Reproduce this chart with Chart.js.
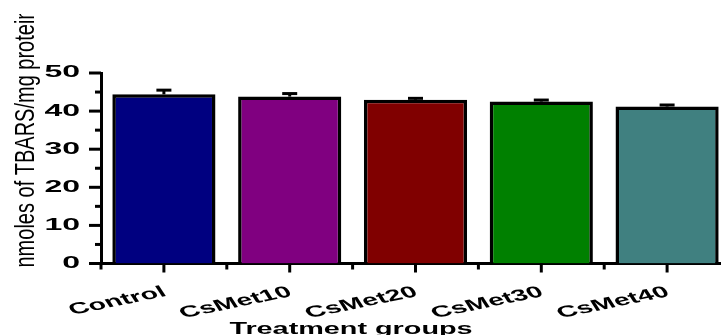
<!DOCTYPE html>
<html>
<head>
<meta charset="utf-8">
<script src="https://cdn.jsdelivr.net/npm/chart.js@4/dist/chart.umd.min.js"></script>
<style>
  html, body { margin: 0; padding: 0; background: #fff; overflow: hidden; }
  #wrap { width: 721px; height: 335px; overflow: hidden; position: relative; }
  canvas { display: block; }
</style>
</head>
<body>
<div id="wrap"><canvas id="c" width="730" height="335"></canvas></div>
<script>
// TBARS levels per treatment group (mean and SEM)
const groups = ['Control', 'CsMet10', 'CsMet20', 'CsMet30', 'CsMet40'];
const tbarsMean = [44.4, 43.8, 43.0, 42.5, 41.2];
const tbarsSem = [1.1, 0.8, 0.35, 0.4, 0.4];
const barColors = ['#000080', '#800080', '#800000', '#008000', '#408080'];
const yMajorTicks = [0, 10, 20, 30, 40, 50];
const yMinorTicks = [5, 15, 25, 35, 45];
const yTitle = 'nmoles of TBARS/mg protein';
const xTitle = 'Treatment groups';

const INK = '#000';
const FONT = '"Liberation Sans", Arial, sans-serif';

// Text drawn with a horizontal stretch (wide lettering of the figure)
function wideText(ctx, text, x, y, sx, angle, align, baseline, font) {
  ctx.save();
  ctx.translate(x, y);
  ctx.scale(sx, 1);
  ctx.rotate(angle);
  ctx.font = font;
  ctx.fillStyle = INK;
  ctx.textAlign = align;
  ctx.textBaseline = baseline;
  ctx.fillText(text, 0, 0);
  ctx.restore();
}

function line(ctx, x1, y1, x2, y2) {
  ctx.beginPath();
  ctx.moveTo(x1, y1);
  ctx.lineTo(x2, y2);
  ctx.stroke();
}

// Upper error bars with caps
const errorBars = {
  id: 'errorBars',
  afterDatasetsDraw(chart) {
    const ctx = chart.ctx;
    const y = chart.scales.y;
    const meta = chart.getDatasetMeta(0);
    ctx.save();
    ctx.strokeStyle = INK;
    ctx.lineWidth = 3;
    ctx.lineCap = 'butt';
    meta.data.forEach((bar, i) => {
      const top = y.getPixelForValue(tbarsMean[i] + tbarsSem[i]);
      const base = y.getPixelForValue(tbarsMean[i]);
      line(ctx, bar.x, base, bar.x, top);
      line(ctx, bar.x - 7.5, top, bar.x + 7.5, top);
    });
    ctx.restore();
  }
};

// Axis ticks, tick labels and axis titles
const axisDecor = {
  id: 'axisDecor',
  afterDraw(chart) {
    const ctx = chart.ctx;
    const area = chart.chartArea;
    const x = chart.scales.x;
    const y = chart.scales.y;
    ctx.save();
    ctx.strokeStyle = INK;
    ctx.lineWidth = 3;
    ctx.lineCap = 'butt';

    // y ticks
    yMajorTicks.forEach(v => {
      const py = y.getPixelForValue(v);
      line(ctx, area.left - 12, py, area.left, py);
      wideText(ctx, String(v), area.left - 21, py, 2.0, 0, 'right', 'middle', 'bold 16px ' + FONT);
    });
    yMinorTicks.forEach(v => {
      const py = y.getPixelForValue(v);
      line(ctx, area.left - 6, py, area.left, py);
    });

    // x ticks: long at group centres, short at group boundaries
    const centres = groups.map((g, i) => x.getPixelForValue(i));
    const half = (centres[1] - centres[0]) / 2;
    centres.forEach((cx, i) => {
      line(ctx, cx, area.bottom, cx, area.bottom + 9);
      line(ctx, cx - half, area.bottom, cx - half, area.bottom + 6);
      wideText(ctx, groups[i], cx + 1, area.bottom + 28, 1.78, -20 * Math.PI / 180, 'right', 'middle', 'bold 16px ' + FONT);
    });

    // x title
    wideText(ctx, xTitle, area.left + 250, area.bottom + 70, 1.8, 0, 'center', 'alphabetic', 'bold 16px ' + FONT);

    // y title (rotated), cut off near the top edge
    ctx.save();
    ctx.beginPath();
    ctx.rect(0, 14, area.left, chart.height);
    ctx.clip();
    wideText(ctx, yTitle, 26.5, area.bottom + 4, 1.38, -Math.PI / 2, 'left', 'middle', '20px ' + FONT);
    ctx.restore();

    ctx.restore();
  }
};

new Chart(document.getElementById('c'), {
  type: 'bar',
  data: {
    labels: groups,
    datasets: [{
      data: tbarsMean,
      backgroundColor: barColors,
      borderColor: INK,
      borderWidth: 3.5,
      barPercentage: 0.82,
      categoryPercentage: 1
    }]
  },
  options: {
    responsive: false,
    animation: false,
    devicePixelRatio: 1,
    layout: { padding: { top: 73, left: 0, right: 0, bottom: 0 } },
    plugins: { legend: { display: false }, tooltip: { enabled: false } },
    scales: {
      x: {
        ticks: { display: false },
        grid: { display: false },
        border: { display: true, color: INK, width: 3 },
        afterFit(s) { s.height = 71.5; }
      },
      y: {
        min: 0,
        max: 50,
        ticks: { display: false, stepSize: 5 },
        grid: { display: false },
        border: { display: true, color: INK, width: 3 },
        afterFit(s) { s.width = 101; }
      }
    }
  },
  plugins: [errorBars, axisDecor]
});
</script>
</body>
</html>
